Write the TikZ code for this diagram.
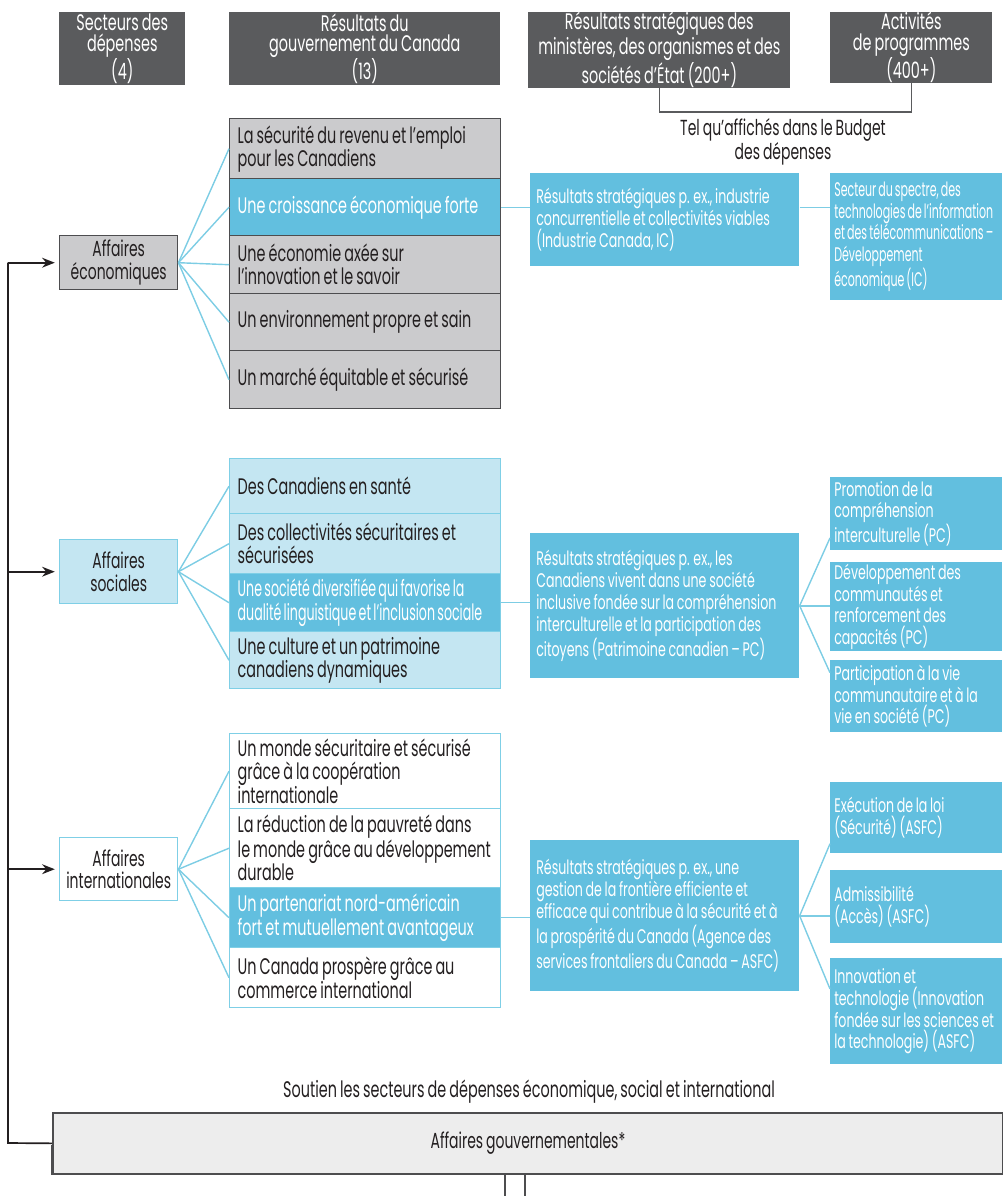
\documentclass[tikz,border=0pt]{standalone}
\usepackage{fontspec}
\setmainfont{Poppins}[FakeStretch=0.64, WordSpace=0.8]
\newfontfamily\narrowfont{Poppins}[FakeStretch=0.56, WordSpace=0.7]
\usepackage{xcolor}
\usetikzlibrary{arrows.meta}
\hyphenpenalty=10000

\definecolor{hdrgray}{HTML}{5A5B5D}
\definecolor{itemgray}{HTML}{CBCBCD}
\definecolor{edgegray}{HTML}{4D4D4F}
\definecolor{cyanbox}{HTML}{62BFDF}
\definecolor{paleblue}{HTML}{C4E6F2}
\definecolor{edgeblue}{HTML}{7FCFE6}
\definecolor{linkblue}{HTML}{7DCDE4}
\definecolor{govgray}{HTML}{EDEDED}
\definecolor{inkblack}{HTML}{231F20}

\begin{document}
\begin{tikzpicture}[x=0.025cm, y=-0.025cm,
        hdr/.style={fill=hdrgray, text=white, anchor=north west, inner sep=0pt, align=center,
            font=\fontsize{16}{14.5}\selectfont},
        sect/.style={draw, line width=1pt, anchor=north west, minimum width=2.95cm, inner sep=0pt,
            align=center, text=inkblack, font=\fontsize{15.5}{16}\selectfont},
        res/.style={draw, line width=1pt, anchor=north west, minimum width=6.775cm, text width=6.375cm,
            inner xsep=0.2cm, inner ysep=0pt, align=flush left, text=inkblack,
            font=\fontsize{16}{16.4}\selectfont},
        strat/.style={fill=cyanbox, text=white, anchor=north west, minimum width=6.725cm, text width=6.425cm,
            inner xsep=0.15cm, inner ysep=0pt, align=flush left, font=\fontsize{14}{15.5}\selectfont},
        act/.style={fill=cyanbox, text=white, anchor=north west, minimum width=4.3cm, text width=4.1cm,
            inner xsep=0.1cm, inner ysep=0pt, align=flush left, font=\fontsize{14}{15.5}\selectfont},
        link/.style={linkblue, line width=1pt},
        feed/.style={inkblack, line width=1.2pt, -{Stealth[length=9pt,width=7pt]}, shorten >=3pt}
    ]
                    \useasboundingbox (0,0) rectangle (1002,1196);

                    \node[hdr, minimum width=3.15cm, minimum height=1.825cm] (h1) at (59,12) {Secteurs des\\ dépenses\\ (4)};
                    \node[hdr, minimum width=6.775cm, minimum height=1.825cm] (h2) at (229,12) {Résultats du\\ gouvernement du Canada\\ (13)};
                    \node[hdr, minimum width=6.55cm, minimum height=1.725cm] (h3) at (528,12) {Résultats stratégiques des\\ ministères, des organismes et des\\ sociétés d’État (200+)};
                    \node[hdr, minimum width=4.05cm, minimum height=1.725cm] (h4) at (830,12) {Activités\\ de programmes\\ (400+)};
                    \draw[hdrgray, line width=1pt] (h3.south) -- ++(0,24) -| (h4.south);
                    \node[align=center, text=inkblack, font=\fontsize{15.5}{15}\selectfont] (budget) at (783,142) {Tel qu’affichés dans le Budget\\ des dépenses};

                    \node[sect, fill=itemgray, draw=edgegray, minimum height=1.35cm] (eco) at (59,235) {Affaires\\ économiques};
                    \node[res, fill=itemgray, draw=edgegray, minimum height=1.5cm] (e1) at (229,118) {La sécurité du revenu et l’emploi\\ pour les Canadiens};
                    \node[res, fill=cyanbox, draw=edgegray, text=white, minimum height=1.425cm] (e2) at (229,178) {Une croissance économique forte};
                    \node[res, fill=itemgray, draw=edgegray, minimum height=1.45cm] (e3) at (229,235) {Une économie axée sur\\ l’innovation et le savoir};
                    \node[res, fill=itemgray, draw=edgegray, minimum height=1.425cm] (e4) at (229,293) {Un environnement propre et sain};
                    \node[res, fill=itemgray, draw=edgegray, minimum height=1.45cm] (e5) at (229,350) {Un marché équitable et sécurisé};
                    \node[strat, minimum height=2.325cm] (es) at (530,173) {Résultats stratégiques p. ex., industrie\\ concurrentielle et collectivités viables\\ (Industrie Canada, IC)};
                    \node[act, minimum height=3.175cm, font=\narrowfont\fontsize{14}{15.5}\selectfont] (ea) at (830,173) {Secteur du spectre, des\\ technologies de l’information\\ et des télécommunications –\\ Développement\\ économique (IC)};
                    \foreach \i in {1,...,5}
                        \draw[link] (eco.east) -- (e\i.west);
                    \draw[link] (e2.east) -- (e2.east -| es.west);
                    \draw[link] (e2.east -| es.east) -- (e2.east -| ea.west);

                    \node[sect, fill=paleblue, draw=edgeblue, minimum height=1.6cm] (soc) at (59,539) {Affaires\\ sociales};
                    \node[res, fill=paleblue, draw=edgeblue, minimum height=1.375cm] (s1) at (229,458) {Des Canadiens en santé};
                    \node[res, fill=paleblue, draw=edgeblue, minimum height=1.5cm] (s2) at (229,513) {Des collectivités sécuritaires et\\ sécurisées};
                    \node[res, fill=cyanbox, draw=edgeblue, text=white, minimum height=1.45cm, font=\narrowfont\fontsize{16}{16.4}\selectfont] (s3) at (229,573) {Une société diversifiée qui favorise la\\ dualité linguistique et l’inclusion sociale};
                    \node[res, fill=paleblue, draw=edgeblue, minimum height=1.425cm] (s4) at (229,631) {Une culture et un patrimoine\\ canadiens dynamiques};
                    \node[strat, minimum height=3.625cm] (ss) at (530,533) {Résultats stratégiques p. ex., les\\ Canadiens vivent dans une société\\ inclusive fondée sur la compréhension\\ interculturelle et la participation des\\ citoyens (Patrimoine canadien – PC)};
                    \node[act, minimum height=1.825cm] (sa1) at (830,477) {Promotion de la\\ compréhension\\ interculturelle (PC)};
                    \node[act, minimum height=2.225cm] (sa2) at (830,562) {Développement des\\ communautés et\\ renforcement des\\ capacités (PC)};
                    \node[act, minimum height=1.8cm] (sa3) at (830,660) {Participation à la vie\\ communautaire et à la\\ vie en société (PC)};
                    \foreach \i in {1,...,4}
                        \draw[link] (soc.east) -- (s\i.west);
                    \draw[link] (s3.east) -- (s3.east -| ss.west);
                    \draw[link] (ss.east) -- ([yshift=9pt]sa1.south west);
                    \draw[link] (ss.east) -- (ss.east -| sa2.west);
                    \draw[link] (ss.east) -- ([yshift=-9pt]sa3.north west);

                    \node[sect, fill=white, draw=edgeblue, minimum height=1.575cm] (int) at (59,837) {Affaires\\ internationales};
                    \node[res, fill=white, draw=edgeblue, minimum height=1.875cm] (i1) at (229,733) {Un monde sécuritaire et sécurisé\\ grâce à la coopération\\ internationale};
                    \node[res, fill=white, draw=edgeblue, minimum height=1.975cm] (i2) at (229,808) {La réduction de la pauvreté dans\\ le monde grâce au développement\\ durable};
                    \node[res, fill=cyanbox, draw=edgeblue, text=white, minimum height=1.5cm] (i3) at (229,887) {Un partenariat nord-américain\\ fort et mutuellement avantageux};
                    \node[res, fill=white, draw=edgeblue, minimum height=1.5cm] (i4) at (229,947) {Un Canada prospère grâce au\\ commerce international};
                    \node[strat, minimum height=3.775cm] (is) at (530,840) {Résultats stratégiques p. ex., une\\ gestion de la frontière efficiente et\\ efficace qui contribue à la sécurité et à\\ la prospérité du Canada (Agence des\\ services frontaliers du Canada – ASFC)};
                    \node[act, minimum height=1.775cm] (ia1) at (830,782) {Exécution de la loi\\ (Sécurité) (ASFC)};
                    \node[act, minimum height=1.825cm] (ia2) at (830,870) {Admissibilité\\ (Accès) (ASFC)};
                    \node[act, minimum height=2.65cm] (ia3) at (830,958) {Innovation et\\ technologie (Innovation\\ fondée sur les sciences et\\ la technologie) (ASFC)};
                    \foreach \i in {1,...,4}
                        \draw[link] (int.east) -- (i\i.west);
                    \draw[link] (i3.east) -- (i3.east -| is.west);
                    \draw[link] (is.east) -- ([yshift=7pt]ia1.south west);
                    \draw[link] (is.east) -- (is.east -| ia2.west);
                    \draw[link] (is.east) -- ([yshift=-22pt]ia3.north west);

                    \node[text=inkblack, font=\fontsize{16}{15}\selectfont] (support) at (529,1092) {Soutien les secteurs de dépenses économique, social et international};
                    \node[draw=edgegray, line width=1.2pt, fill=govgray, anchor=north west, minimum width=23.75cm, minimum height=1.525cm,
                        text=inkblack, font=\fontsize{15.5}{15}\selectfont] (gov) at (52,1112) {Affaires gouvernementales*};
                    \draw[edgegray, line width=1pt] (gov.south west) -- ++(0,-30);
                    \draw[edgegray, line width=1pt] (505,1173) -- (505,1196);
                    \draw[edgegray, line width=1pt] (525,1173) -- (525,1196);

                    \coordinate (spine) at (8,1143);
                    \draw[inkblack, line width=1.2pt] (gov.west) -- (spine) -- (spine |- eco.west);
                    \draw[feed] (spine |- eco.west) -- (eco.west);
                    \draw[feed] (spine |- soc.west) -- (soc.west);
                    \draw[feed] (spine |- int.west) -- (int.west);
                \end{tikzpicture}
\end{document}
